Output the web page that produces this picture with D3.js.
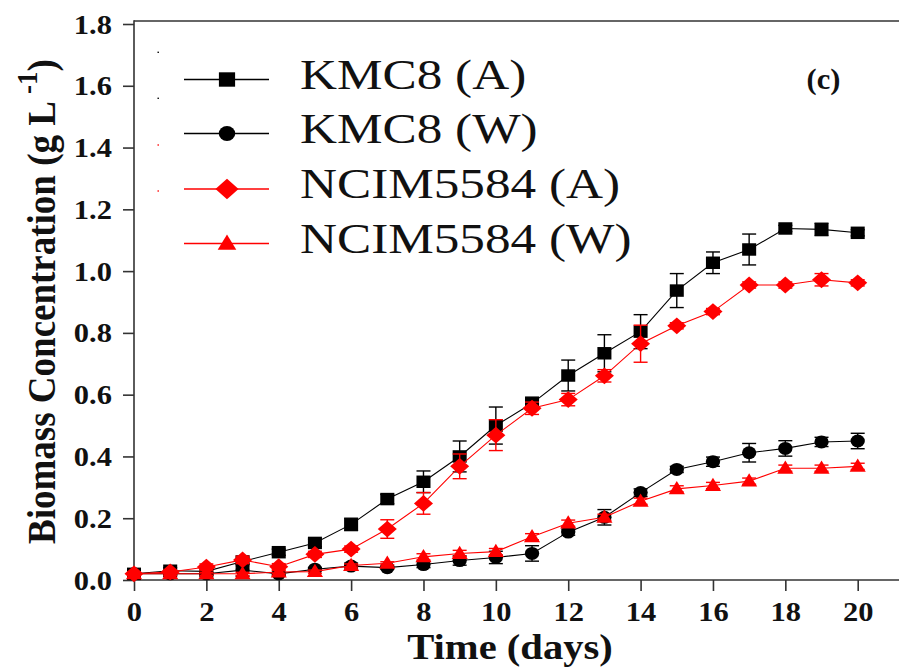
<!DOCTYPE html>
<html>
<head>
<meta charset="utf-8">
<script src="https://cdn.jsdelivr.net/npm/d3@7"></script>
<style>
  body { margin: 0; background: #fff; }
  svg { display: block; }
</style>
</head>
<body>
<svg id="viz" width="899" height="667"></svg>
<script>
// days of sampling
var days = [0, 1, 2, 3, 4, 5, 6, 7, 8, 9, 10, 11, 12, 13, 14, 15, 16, 17, 18, 19, 20];

// biomass (g/L)
var kmc8A = [0.02, 0.03, 0.028, 0.06, 0.09, 0.12, 0.18, 0.262, 0.318, 0.40, 0.50, 0.572, 0.662, 0.734, 0.804, 0.937, 1.027, 1.07, 1.138, 1.135, 1.124];
var kmc8W = [0.02, 0.02, 0.02, 0.032, 0.02, 0.035, 0.045, 0.04, 0.05, 0.063, 0.073, 0.086, 0.155, 0.203, 0.283, 0.358, 0.383, 0.412, 0.426, 0.447, 0.45];
var ncimA = [0.02, 0.026, 0.042, 0.065, 0.043, 0.083, 0.10, 0.165, 0.248, 0.368, 0.469, 0.556, 0.584, 0.661, 0.765, 0.823, 0.869, 0.955, 0.955, 0.972, 0.962];
var ncimW = [0.02, 0.02, 0.02, 0.02, 0.026, 0.027, 0.047, 0.054, 0.075, 0.086, 0.092, 0.14, 0.184, 0.203, 0.255, 0.295, 0.306, 0.32, 0.362, 0.362, 0.368];

// standard deviation bars (half height)
var kmc8AErr = [0.005, 0.01, 0.01, 0.01, 0.01, 0.012, 0.02, 0.015, 0.035, 0.05, 0.06, 0.02, 0.05, 0.06, 0.055, 0.055, 0.035, 0.05, 0.01, 0.02, 0.01];
var kmc8WErr = [0.005, 0.005, 0.005, 0.02, 0.005, 0.005, 0.01, 0.005, 0.01, 0.015, 0.02, 0.025, 0.01, 0.025, 0.012, 0.01, 0.015, 0.03, 0.025, 0.015, 0.025];
var ncimAErr = [0.005, 0.005, 0.01, 0.012, 0.01, 0.01, 0.01, 0.03, 0.035, 0.04, 0.05, 0.02, 0.02, 0.02, 0.06, 0.01, 0.01, 0.01, 0.01, 0.02, 0.01];
var ncimWErr = [0.005, 0.005, 0.005, 0.005, 0.005, 0.005, 0.005, 0.005, 0.01, 0.01, 0.01, 0.01, 0.01, 0.01, 0.01, 0.01, 0.01, 0.01, 0.01, 0.01, 0.01];

var seriesNames = ["KMC8 (A)", "KMC8 (W)", "NCIM5584 (A)", "NCIM5584 (W)"];
var xTicks = [0, 2, 4, 6, 8, 10, 12, 14, 16, 18, 20];
var yTicks = [0, 0.2, 0.4, 0.6, 0.8, 1.0, 1.2, 1.4, 1.6, 1.8];

var svg = d3.select("#viz");
var serif = "'Liberation Serif', 'Times New Roman', serif";
var axisColor = "#333";

var x = d3.scaleLinear().domain([0, 20]).range([134, 857.7]);
var y = d3.scaleLinear().domain([0, 1.8]).range([580, 24]);

// symbol paths (picture is a bit stretched sideways)
var shapes = {
  square: function(s) { return "M" + (-s * 0.54) + "," + (-s * 0.48) + "h" + (s * 1.08) + "v" + (s * 0.96) + "h" + (-s * 1.08) + "Z"; },
  circle: function(s) { var rx = s * 0.55, ry = s * 0.5; return "M" + (-rx) + ",0A" + rx + "," + ry + " 0 1,0 " + rx + ",0A" + rx + "," + ry + " 0 1,0 " + (-rx) + ",0Z"; },
  diamond: function(s) { return "M0," + (-s * 0.6) + "L" + (s * 0.68) + ",0L0," + (s * 0.6) + "L" + (-s * 0.68) + ",0Z"; },
  triangle: function(s) { return "M0," + (-s * 0.6) + "L" + (s * 0.62) + "," + (s * 0.42) + "L" + (-s * 0.62) + "," + (s * 0.42) + "Z"; }
};

var series = [
  { name: seriesNames[0], values: kmc8A, err: kmc8AErr, color: "#000", shape: "square" },
  { name: seriesNames[1], values: kmc8W, err: kmc8WErr, color: "#000", shape: "circle" },
  { name: seriesNames[2], values: ncimA, err: ncimAErr, color: "#ff0000", shape: "diamond" },
  { name: seriesNames[3], values: ncimW, err: ncimWErr, color: "#ff0000", shape: "triangle" }
];

svg.append("rect").attr("width", 899).attr("height", 667).attr("fill", "#fff");

// axes
var xAxis = d3.axisBottom(x).tickValues(xTicks).tickSize(11).tickFormat(d3.format("d"));
var yAxis = d3.axisLeft(y).tickValues(yTicks).tickSize(11).tickFormat(d3.format(".1f"));

var gx = svg.append("g").attr("transform", "translate(0,580)").call(xAxis);
var gy = svg.append("g").attr("transform", "translate(134,0)").call(yAxis);

[gx, gy].forEach(function(g) {
  g.select(".domain").remove();
  g.selectAll(".tick line").attr("stroke", axisColor).attr("stroke-width", 1.6);
  g.selectAll(".tick text").remove();
});

gx.selectAll(".tick").append("text")
  .attr("transform", "translate(0,41) scale(1.13,1)")
  .attr("text-anchor", "middle")
  .attr("fill", "#111")
  .style("font-family", serif)
  .style("font-weight", "bold")
  .style("font-size", "27px")
  .text(function(d) { return d; });

gy.selectAll(".tick").append("text")
  .attr("transform", "translate(-22,9) scale(1.13,1)")
  .attr("text-anchor", "end")
  .attr("fill", "#111")
  .style("font-family", serif)
  .style("font-weight", "bold")
  .style("font-size", "27px")
  .text(function(d) { return d3.format(".1f")(d); });

// frame lines (right edge runs off the picture)
svg.append("line").attr("x1", 134).attr("x2", 899).attr("y1", 580).attr("y2", 580)
  .attr("stroke", axisColor).attr("stroke-width", 1.6);
svg.append("line").attr("x1", 134).attr("x2", 899).attr("y1", 21).attr("y2", 21)
  .attr("stroke", axisColor).attr("stroke-width", 1.6);
svg.append("line").attr("x1", 134).attr("x2", 134).attr("y1", 20.2).attr("y2", 580.8)
  .attr("stroke", axisColor).attr("stroke-width", 1.6);

// series
var line = d3.line()
  .x(function(d, i) { return x(days[i]); })
  .y(function(d) { return y(d); });

var groups = svg.append("g").selectAll("g")
  .data(series)
  .enter()
  .append("g");

groups.append("path")
  .attr("d", function(d) { return line(d.values); })
  .attr("fill", "none")
  .attr("stroke", function(d) { return d.color; })
  .attr("stroke-width", 1.1);

groups.each(function(s) {
  var g = d3.select(this);
  var pts = s.values.map(function(v, i) { return { day: days[i], v: v, e: s.err[i] }; });

  var bars = g.append("g").selectAll("g").data(pts).enter().append("g")
    .attr("stroke", s.color).attr("stroke-width", 1.4);
  bars.append("line")
    .attr("x1", function(d) { return x(d.day); }).attr("x2", function(d) { return x(d.day); })
    .attr("y1", function(d) { return y(d.v + d.e); }).attr("y2", function(d) { return y(d.v - d.e); });
  bars.append("line")
    .attr("x1", function(d) { return x(d.day) - 7; }).attr("x2", function(d) { return x(d.day) + 7; })
    .attr("y1", function(d) { return y(d.v + d.e); }).attr("y2", function(d) { return y(d.v + d.e); });
  bars.append("line")
    .attr("x1", function(d) { return x(d.day) - 7; }).attr("x2", function(d) { return x(d.day) + 7; })
    .attr("y1", function(d) { return y(d.v - d.e); }).attr("y2", function(d) { return y(d.v - d.e); });

  g.append("g").selectAll("path").data(pts).enter().append("path")
    .attr("transform", function(d) { return "translate(" + x(d.day) + "," + y(d.v) + ")"; })
    .attr("d", shapes[s.shape](s.shape === "diamond" ? 14 : 13))
    .attr("fill", s.color);
});

// legend
var legendY = [79.5, 133.5, 189, 243.5];
var legend = svg.append("g").selectAll("g")
  .data(series)
  .enter()
  .append("g")
  .attr("transform", function(d, i) { return "translate(0," + legendY[i] + ")"; });

legend.append("line")
  .attr("x1", 184).attr("x2", 269)
  .attr("stroke", function(d) { return d.color; })
  .attr("stroke-width", 1.3);

legend.append("path")
  .attr("transform", "translate(227,0)")
  .attr("d", function(d) { return shapes[d.shape](d.shape === "diamond" ? 17 : 15); })
  .attr("fill", function(d) { return d.color; });

legend.append("text")
  .attr("transform", "translate(300,9) scale(1.22,1)")
  .attr("fill", "#111")
  .style("font-family", serif)
  .style("font-size", "42px")
  .text(function(d) { return d.name; });

// tiny stray dots left of the legend
var dotY = [52.3, 98.3, 145, 191];
svg.append("g").selectAll("rect")
  .data(series)
  .enter()
  .append("rect")
  .attr("x", 157.5).attr("y", function(d, i) { return dotY[i] - 0.7; })
  .attr("width", 1.4).attr("height", 1.4)
  .attr("fill", function(d) { return d.color; });

// panel label
svg.append("text")
  .attr("transform", "translate(823.5,89) scale(1.05,1)")
  .attr("text-anchor", "middle")
  .attr("fill", "#111")
  .style("font-family", serif)
  .style("font-weight", "bold")
  .style("font-size", "29px")
  .text("(c)");

// axis titles
svg.append("text")
  .attr("transform", "translate(510,659) scale(1.16,1)")
  .attr("text-anchor", "middle")
  .attr("fill", "#111")
  .style("font-family", serif)
  .style("font-weight", "bold")
  .style("font-size", "35px")
  .text("Time (days)");

var yTitle = svg.append("text")
  .attr("transform", "translate(55,301.5) scale(1.1,1) rotate(-90)")
  .attr("text-anchor", "middle")
  .attr("fill", "#111")
  .style("font-family", serif)
  .style("font-weight", "bold")
  .style("font-size", "37px");
yTitle.append("tspan").text("Biomass Concentration (g L ");
yTitle.append("tspan").attr("dy", -16).style("font-size", "27px").text("-1");
yTitle.append("tspan").attr("dy", 16).text(")");
</script>
</body>
</html>
